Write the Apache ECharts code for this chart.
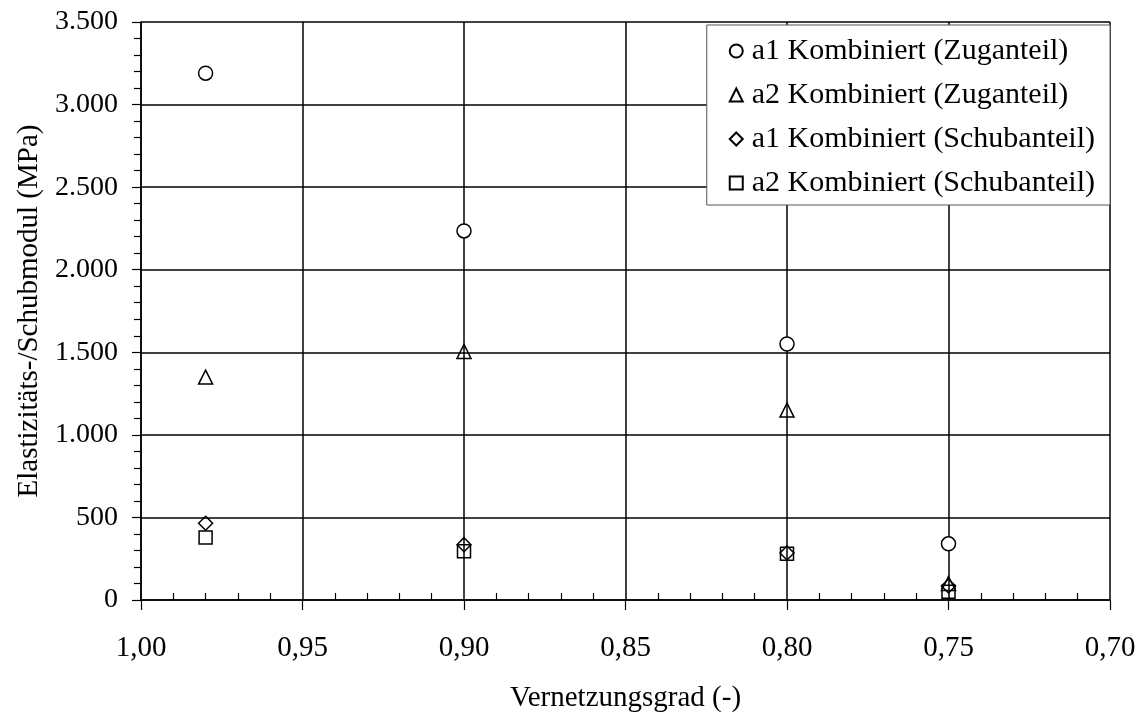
<!DOCTYPE html>
<html>
<head>
<meta charset="utf-8">
<script src="https://cdn.jsdelivr.net/npm/echarts@6/dist/echarts.min.js"></script>
<style>
  html, body { margin: 0; padding: 0; background: #fff; }
  #chart { width: 1148px; height: 718px; }
</style>
</head>
<body>
<div id="chart"></div>
<script>
// Vernetzungsgrad (crosslinking degree) at which each specimen set was measured
const vernetzungsgrad = [0.98, 0.90, 0.80, 0.75];

// Moduli in MPa
const a1Zug   = [3190, 2235, 1550, 340];
const a2Zug   = [1350, 1505, 1150, 100];
const a1Schub = [465, 335, 285, 85];
const a2Schub = [378, 295, 280, 50];

const seriesNames = [
  'a1 Kombiniert (Zuganteil)',
  'a2 Kombiniert (Zuganteil)',
  'a1 Kombiniert (Schubanteil)',
  'a2 Kombiniert (Schubanteil)'
];

const FONT = '"Liberation Serif", "Times New Roman", serif';

function pairs(ys) {
  return vernetzungsgrad.map((x, i) => [x, ys[i]]);
}

function fmtX(v) {
  return v.toFixed(2).replace('.', ',');
}
function fmtY(v) {
  return String(Math.round(v)).replace(/\B(?=(\d{3})+(?!\d))/g, '.');
}

function scatter(name, data, symbol, size, fill) {
  return {
    name: name,
    type: 'scatter',
    xAxisIndex: 0,
    symbol: symbol,
    symbolSize: size,
    data: data,
    itemStyle: { color: fill, borderColor: '#000', borderWidth: 1.5, opacity: 1 },
    emphasis: { disabled: true },
    z: 5
  };
}

const chart = echarts.init(document.getElementById('chart'), null, { renderer: 'canvas' });

chart.setOption({
  animation: false,
  backgroundColor: '#fff',
  textStyle: { fontFamily: FONT },
  grid: { left: 141, right: 38, top: 22, bottom: 112, containLabel: false },
  legend: {
    orient: 'vertical',
    right: 38,
    top: 25,
    padding: [11, 15, 7, 22],
    itemGap: 14,
    itemWidth: 13,
    itemHeight: 13,
    backgroundColor: '#fff',
    borderColor: '#555',
    borderWidth: 1,
    textStyle: { fontFamily: FONT, fontSize: 30, color: '#000', padding: [0, 0, 0, 4] },
    data: seriesNames
  },
  xAxis: [
    {
      type: 'value',
      inverse: true,
      min: 0.70,
      max: 1.00,
      interval: 0.05,
      name: 'Vernetzungsgrad (-)',
      nameLocation: 'middle',
      nameGap: 84,
      nameTextStyle: { fontFamily: FONT, fontSize: 29, color: '#000' },
      axisLine: { show: true, lineStyle: { color: '#000', width: 1.5 } },
      axisTick: { show: true, inside: false, length: 10, lineStyle: { color: '#000', width: 1.2 } },
      minorTick: { show: false },
      axisLabel: {
        fontFamily: FONT, fontSize: 29, color: '#000', margin: 34,
        formatter: fmtX
      },
      splitLine: { show: true, lineStyle: { color: '#000', width: 1.5 } }
    },
    {
      // overlay axis carrying the inward-pointing minor ticks
      type: 'value',
      inverse: true,
      position: 'bottom',
      min: 0.70,
      max: 1.00,
      interval: 0.05,
      axisLine: { show: false },
      axisTick: { show: false, inside: true },
      minorTick: { show: true, splitNumber: 5, length: 7, lineStyle: { color: '#000', width: 1.2 } },
      axisLabel: { show: false },
      splitLine: { show: false }
    }
  ],
  yAxis: {
    type: 'value',
    min: 0,
    max: 3500,
    interval: 500,
    name: 'Elastizitäts-/Schubmodul (MPa)',
    nameLocation: 'middle',
    nameGap: 96,
    nameTextStyle: { fontFamily: FONT, fontSize: 29, color: '#000' },
    axisLine: { show: true, lineStyle: { color: '#000', width: 1.5 } },
    axisTick: { show: true, inside: false, length: 9, lineStyle: { color: '#000', width: 1.2 } },
    minorTick: { show: true, splitNumber: 5, length: 7, lineStyle: { color: '#000', width: 1.2 } },
    axisLabel: {
      fontFamily: FONT, fontSize: 28, color: '#000', margin: 23,
      formatter: fmtY
    },
    splitLine: { show: true, lineStyle: { color: '#000', width: 1.5 } }
  },
  series: [
    scatter(seriesNames[0], pairs(a1Zug), 'circle', 14, '#fff'),
    scatter(seriesNames[1], pairs(a2Zug), 'triangle', 14, 'rgba(0,0,0,0)'),
    scatter(seriesNames[2], pairs(a1Schub), 'diamond', 14, 'rgba(0,0,0,0)'),
    scatter(seriesNames[3], pairs(a2Schub), 'rect', 13, 'rgba(0,0,0,0)')
  ]
});
</script>
</body>
</html>
